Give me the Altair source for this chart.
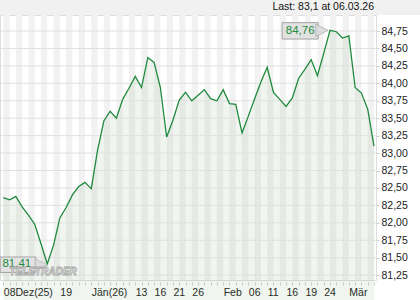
import altair as alt
import pandas as pd

# --- data (trading-day index -> close) ---
values = [82.36, 82.33, 82.38, 82.23, 82.11, 81.98, 81.70, 81.41, 81.68, 82.07,
          82.22, 82.40, 82.52, 82.58, 82.49, 83.04, 83.46, 83.60, 83.50, 83.77,
          83.93, 84.10, 83.94, 84.37, 84.30, 83.94, 83.23, 83.47, 83.76, 83.87,
          83.75, 83.83, 83.91, 83.78, 83.75, 83.91, 83.71, 83.70, 83.29, 83.53,
          83.78, 84.02, 84.23, 83.87, 83.77, 83.67, 83.79, 84.07, 84.20, 84.34,
          84.11, 84.43, 84.76, 84.74, 84.65, 84.68, 83.94, 83.86, 83.63, 83.10]
x_label_idx = [0, 9, 14, 21, 24, 27, 30, 35, 39, 42, 45, 48, 51, 55]
x_label_txt = ["08Dez(25)", "19", "Jän(26)", "13", "16", "21", "26", "Feb", "06", "11", "16", "19", "24", "Mär"]
y_ticks = [81.25, 81.5, 81.75, 82.0, 82.25, 82.5, 82.75, 83.0, 83.25, 83.5, 83.75, 84.0, 84.25, 84.5, 84.75]
last_text = "Last: 83,1 at 06.03.26"
watermark = "TELETRADER"

W, H = 376, 265
FONT = "Liberation Sans"
GREEN = "#1f8a3d"

df = pd.DataFrame({"i": list(range(len(values))), "v": values})
imax = max(range(len(values)), key=lambda k: values[k])
imin = min(range(len(values)), key=lambda k: values[k])
vmax, vmin = values[imax], values[imin]

xs = alt.Scale(domain=[-0.525, 59.32], nice=False, zero=False)
ys = alt.Scale(domain=[81.18, 84.98], nice=False, zero=False)

label_map = "{" + ",".join(f'"{i}":"{t}"' for i, t in zip(x_label_idx, x_label_txt)) + "}"
x_axis = alt.Axis(values=list(range(len(values))), labelExpr=f"{label_map}[datum.value] || ''",
                  orient="bottom", domain=False, grid=False, ticks=True, tickColor="#cfcfcf",
                  tickSize=3, offset=2, labelAlign="left", labelPadding=2, labelFont=FONT,
                  labelFontSize=10.5, labelColor="#222", title=None, labelOverlap=False,
                  labelBound=False, labelFlush=False)
y_axis = alt.Axis(values=y_ticks, orient="right", domain=False, grid=False, ticks=True,
                  tickColor="#d0d0d0", tickSize=3, labelPadding=2, labelFont=FONT,
                  labelFontSize=10.5, labelColor="#222", title=None,
                  labelExpr="replace(format(datum.value, '.2f'), '.', ',')")


def X(field):
    return alt.X(field, scale=xs, axis=x_axis)


def Y(field):
    return alt.Y(field, scale=ys, axis=y_axis)


base = alt.Chart(df)

header = alt.Chart(pd.DataFrame({"a": [0]})).mark_rect(color="#f1f1f1").encode(
    x=alt.value(0), x2=alt.value(420), y=alt.value(-15), y2=alt.value(0))

stripes_df = pd.DataFrame({"s": list(range(0, len(values) - 1, 2))})
stripes_df["e"] = stripes_df["s"] + 1
stripes = alt.Chart(stripes_df).mark_rect(color="#f2f2f2").encode(
    x=X("s:Q"), x2="e:Q", y=alt.value(0), y2=alt.value(H))

area = base.mark_area(color="#6a9a66", opacity=0.1).encode(
    x=X("i:Q"), y=Y("v:Q"), y2=alt.value(H))

grid = alt.Chart(pd.DataFrame({"g": y_ticks})).mark_rule(color="#e0e0e0", strokeWidth=1).encode(
    y=Y("g:Q"), x=alt.value(0), x2=alt.value(W))

line = base.mark_line(color=GREEN, strokeWidth=1.3).encode(x=X("i:Q"), y=Y("v:Q"))

ann = pd.DataFrame({
    "x1": [imax - 7.62, imin - 7.5], "x2": [imax - 1.89, imin - 1.82],
    "y1": [vmax + 0.11, vmin + 0.10], "y2": [vmax - 0.125, vmin - 0.122],
    "xc": [imax - 4.75, imin - 4.85], "yc": [vmax - 0.005, vmin - 0.005],
    "xt": [imax - 1.3, imin - 0.95], "yt": [vmax + 0.0, vmin - 0.015],
    "lab": [f"{vmax:.2f}".replace(".", ","), f"{vmin:.2f}".replace(".", ",")],
})
tri = alt.Chart(ann).mark_point(shape="M-1,-1L1,0L-1,1Z", filled=True, fill="#dcdcdc",
                                 stroke="#b0b0b0", strokeWidth=0.8, opacity=1, size=150).encode(
    x=X("xt:Q"), y=Y("yt:Q"))
box = alt.Chart(ann).mark_rect(fill="#e2e2e2", stroke="#a3a3a3", strokeWidth=1).encode(
    x=X("x1:Q"), x2="x2:Q", y=Y("y1:Q"), y2="y2:Q")
boxtxt = alt.Chart(ann).mark_text(color=GREEN, font=FONT, fontSize=11.5, align="center",
                                  baseline="middle").encode(
    x=X("xc:Q"), y=Y("yc:Q"), text="lab:N")

wm = alt.Chart(pd.DataFrame({"t": [watermark]})).mark_text(
    font=FONT, fontSize=10, fontWeight="bold", fontStyle="italic", fill="#f4f4f4",
    stroke="#a8a8a8", strokeWidth=0.8, align="center", baseline="middle").encode(
    x=alt.value(43), y=alt.value(257), text="t:N")

top = alt.Chart(pd.DataFrame({"t": [last_text]})).mark_text(
    font=FONT, fontSize=10.5, color="#111", align="right", baseline="middle").encode(
    x=alt.value(374), y=alt.value(-8), text="t:N")

chart = alt.layer(header, stripes, area, grid, line, box, tri, boxtxt, wm, top).properties(
    width=W, height=H,
    autosize=alt.AutoSizeParams(type="none"),
    padding={"left": 0, "top": 15, "right": 44, "bottom": 20},
).configure_view(stroke=None).configure(background="white")

chart.save("out.html", embed_options={"renderer": "svg", "actions": False})
